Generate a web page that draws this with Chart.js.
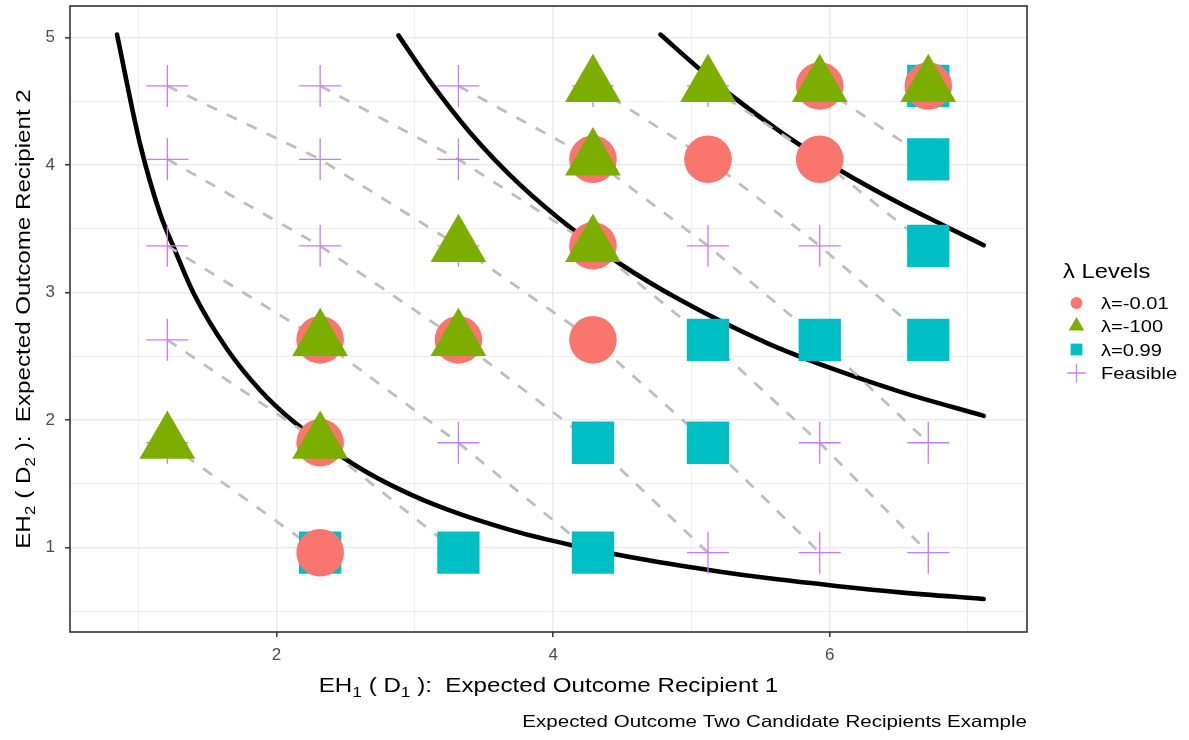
<!DOCTYPE html>
<html>
<head>
<meta charset="utf-8">
<script src="https://cdn.jsdelivr.net/npm/chart.js@4.4.0/dist/chart.umd.min.js"></script>
<style>
  html, body { margin: 0; padding: 0; background: #ffffff; }
  #wrap { width: 1189px; height: 740px; }
</style>
</head>
<body>
<div id="wrap"><canvas id="chart" width="1189" height="740"></canvas></div>
<script>
// Expected-outcome grid levels for the two recipients
const eh1Levels = [1.21, 2.315, 3.315, 4.288, 5.12, 5.928, 6.713];
const eh2Levels = [4.621, 4.046, 3.367, 2.630, 1.823, 0.961];

// Budget lines: offset k = column index - row index along each dashed line
const budgetOffsets = [-4, -3, -2, -1, 0, 1, 2, 3, 4, 5, 6];

// Chosen allocations for each lambda level
const lamMinus001X = [5.928, 6.713, 4.288, 5.12, 5.928, 4.288, 2.315, 3.315, 4.288, 2.315, 2.315];
const lamMinus001Y = [4.621, 4.621, 4.046, 4.046, 4.046, 3.367, 2.630, 2.630, 2.630, 1.823, 0.961];

const lamMinus100X = [4.288, 5.12, 5.928, 6.713, 4.288, 4.288, 3.315, 2.315, 3.315, 1.21, 2.315];
const lamMinus100Y = [4.621, 4.621, 4.621, 4.621, 4.046, 3.367, 3.367, 2.630, 2.630, 1.823, 1.823];

const lam099X = [6.713, 6.713, 6.713, 6.713, 5.928, 5.12, 5.12, 4.288, 4.288, 3.315, 2.315];
const lam099Y = [4.621, 4.046, 3.367, 2.630, 2.630, 2.630, 1.823, 1.823, 0.961, 0.961, 0.961];

// Iso-utility curves
const curveLowX = [0.846, 1.012, 1.157, 1.266, 1.398, 1.64, 1.881, 2.122, 2.556, 2.894, 3.232, 3.713, 4.136, 4.679, 5.209, 5.547, 6.0, 6.512, 7.114];
const curveLowY = [5.024, 4.169, 3.621, 3.33, 3.0, 2.56, 2.235, 1.99, 1.655, 1.455, 1.3, 1.132, 1.02, 0.903, 0.812, 0.762, 0.706, 0.65, 0.598];

const curveMidX = [2.881, 3.111, 3.4, 3.762, 4.148, 4.486, 4.92, 5.547, 6.029, 6.512, 7.114];
const curveMidY = [5.018, 4.655, 4.255, 3.845, 3.49, 3.225, 2.942, 2.605, 2.4, 2.222, 2.034];

const curveHighX = [4.776, 5.065, 5.305, 5.667, 6.077, 6.512, 6.825, 7.114];
const curveHighY = [5.024, 4.748, 4.533, 4.244, 3.958, 3.697, 3.527, 3.372];

// Axis ticks (major labelled, minor unlabelled)
const xTicks = [1, 2, 3, 4, 5, 6, 7];
const xTickLabels = ['', '2', '', '4', '', '6', ''];
const yTicks = [0.5, 1, 1.5, 2, 2.5, 3, 3.5, 4, 4.5, 5];
const yTickLabels = ['', '1', '', '2', '', '3', '', '4', '', '5'];

const legendItems = ['λ=-0.01', 'λ=-100', 'λ=0.99', 'Feasible'];

// ---------------------------------------------------------------
const COL_CIRCLE = '#F8766D';
const COL_TRI = '#7CAE00';
const COL_SQ = '#00BFC4';
const COL_FEAS = '#C77CFF';
const FONT = '"Liberation Sans", Arial, sans-serif';

const zip = (xs, ys) => xs.map((x, i) => ({ x: x, y: ys[i] }));

// cells on the grid: [column, row]
const budgetLines = budgetOffsets.map(k => {
  const pts = [];
  eh2Levels.forEach((y, r) => {
    const c = r + k;
    if (c >= 0 && c < eh1Levels.length) pts.push({ x: eh1Levels[c], y: y });
  });
  return pts;
});
const feasiblePts = [].concat(...budgetLines);

const lineDatasets = budgetLines.map(pts => ({
  data: pts,
  showLine: true,
  borderColor: '#BEBEBE',
  borderWidth: 2.8,
  borderDash: [11, 11],
  pointRadius: 0,
  order: 5
}));

const curveDataset = (xs, ys) => ({
  data: zip(xs, ys),
  showLine: true,
  borderColor: '#000000',
  borderWidth: 4.6,
  borderCapStyle: 'round',
  cubicInterpolationMode: 'monotone',
  pointRadius: 0,
  order: 6
});

const datasets = [
  { label: legendItems[1], data: zip(lamMinus100X, lamMinus100Y), pointStyle: 'triangle', pointRadius: 32.2,
    backgroundColor: COL_TRI, borderWidth: 0, order: 1 },
  { label: legendItems[0], data: zip(lamMinus001X, lamMinus001Y), pointStyle: 'circle', pointRadius: 23.8,
    backgroundColor: COL_CIRCLE, borderWidth: 0, order: 2 },
  { label: legendItems[2], data: zip(lam099X, lam099Y), pointStyle: 'rect', pointRadius: 29.9,
    backgroundColor: COL_SQ, borderWidth: 0, order: 3 },
  { label: legendItems[3], data: feasiblePts, pointStyle: 'cross', pointRadius: 21,
    borderColor: COL_FEAS, backgroundColor: COL_FEAS, borderWidth: 1.3, order: 4 },
  ...lineDatasets,
  curveDataset(curveLowX, curveLowY),
  curveDataset(curveMidX, curveMidY),
  curveDataset(curveHighX, curveHighY)
];

// Draws text with sub-scripted pieces, stretched horizontally by sx
function drawRich(ctx, parts, x, y, size, sx, align) {
  const subSize = size * 0.72;
  ctx.save();
  ctx.translate(x, y);
  ctx.scale(sx, 1);
  ctx.textBaseline = 'alphabetic';
  ctx.textAlign = 'left';
  let total = 0;
  const widths = parts.map(p => {
    ctx.font = (p[1] ? subSize : size) + 'px ' + FONT;
    const w = ctx.measureText(p[0]).width;
    total += w;
    return w;
  });
  let cx = align === 'center' ? -total / 2 : (align === 'right' ? -total : 0);
  parts.forEach((p, i) => {
    ctx.font = (p[1] ? subSize : size) + 'px ' + FONT;
    ctx.fillText(p[0], cx, p[1] ? size * 0.26 : 0);
    cx += widths[i];
  });
  ctx.restore();
}

function legendSymbol(ctx, kind, x, y) {
  ctx.save();
  ctx.beginPath();
  if (kind === 0) {
    ctx.fillStyle = COL_CIRCLE;
    ctx.arc(x, y, 5.9, 0, Math.PI * 2);
    ctx.fill();
  } else if (kind === 1) {
    const r = 9.0;
    ctx.fillStyle = COL_TRI;
    ctx.moveTo(x, y - r);
    ctx.lineTo(x + r * Math.sin(2 * Math.PI / 3), y + r / 2);
    ctx.lineTo(x - r * Math.sin(2 * Math.PI / 3), y + r / 2);
    ctx.closePath();
    ctx.fill();
  } else if (kind === 2) {
    ctx.fillStyle = COL_SQ;
    ctx.fillRect(x - 5.9, y - 5.9, 11.8, 11.8);
  } else {
    ctx.strokeStyle = COL_FEAS;
    ctx.lineWidth = 1.3;
    ctx.moveTo(x - 9.2, y); ctx.lineTo(x + 9.2, y);
    ctx.moveTo(x, y - 9.2); ctx.lineTo(x, y + 9.2);
    ctx.stroke();
  }
  ctx.restore();
}

const decorations = {
  id: 'decorations',
  afterDatasetsDraw(chart) {
    const { ctx, chartArea: a } = chart;
    ctx.save();
    ctx.strokeStyle = '#333333';
    ctx.lineWidth = 1.6;
    ctx.strokeRect(a.left, a.top, a.right - a.left, a.bottom - a.top);
    ctx.restore();
  },
  afterDraw(chart) {
    const { ctx, chartArea: a } = chart;
    ctx.save();
    ctx.fillStyle = '#000000';
    const cx = (a.left + a.right) / 2;
    // x axis title
    drawRich(ctx, [['EH', false], ['1', true], [' ( D', false], ['1', true], [' ):  Expected Outcome Recipient 1', false]],
      cx, 691.5, 21, 1.15, 'center');
    // y axis title
    ctx.save();
    ctx.translate(30, (a.top + a.bottom) / 2);
    ctx.rotate(-Math.PI / 2);
    drawRich(ctx, [['EH', false], ['2', true], [' ( D', false], ['2', true], [' ):  Expected Outcome Recipient 2', false]],
      0, 0, 21, 1.15, 'center');
    ctx.restore();
    // caption
    drawRich(ctx, [['Expected Outcome Two Candidate Recipients Example', false]], a.right, 726.5, 16.5, 1.245, 'right');
    // legend
    drawRich(ctx, [['λ Levels', false]], 1063, 278, 19.5, 1.22, 'left');
    const rows = [303, 326, 349.5, 373];
    legendItems.forEach((t, i) => {
      legendSymbol(ctx, i, 1076.5, rows[i]);
      drawRich(ctx, [[t, false]], 1101, rows[i] + 6, 16.5, 1.22, 'left');
    });
    ctx.restore();
  }
};

const gridStyle = (isMajor) => ({
  color: '#EBEBEB',
  lineWidth: c => (c.tick && isMajor(c.tick.value)) ? 1.6 : 0.8,
  drawTicks: true,
  tickLength: 5,
  tickWidth: 1.5,
  tickColor: c => (c.tick && isMajor(c.tick.value)) ? '#333333' : 'rgba(0,0,0,0)'
});

const noScalePadding = s => {
  s.paddingTop = 0; s.paddingBottom = 0; s.paddingLeft = 0; s.paddingRight = 0;
};

new Chart(document.getElementById('chart'), {
  type: 'scatter',
  data: { datasets: datasets },
  plugins: [decorations],
  options: {
    responsive: false,
    animation: false,
    devicePixelRatio: 1,
    events: [],
    layout: { autoPadding: false, padding: { left: 0, right: 162, top: 6, bottom: 0 } },
    plugins: { legend: { display: false }, tooltip: { enabled: false } },
    scales: {
      x: {
        type: 'linear',
        min: 0.506,
        max: 7.427,
        afterBuildTicks: s => { s.ticks = xTicks.map(v => ({ value: v })); },
        afterFit: s => { s.height = 108; noScalePadding(s); },
        grid: gridStyle(v => xTickLabels[xTicks.indexOf(v)] !== ''),
        border: { display: false },
        ticks: {
          padding: 8,
          color: '#4D4D4D',
          font: { family: FONT, size: 17 },
          maxRotation: 0,
          autoSkip: false,
          callback: v => { const i = xTicks.indexOf(v); return i >= 0 ? xTickLabels[i] : ''; }
        }
      },
      y: {
        type: 'linear',
        min: 0.339,
        max: 5.248,
        afterBuildTicks: s => { s.ticks = yTicks.map(v => ({ value: v })); },
        afterFit: s => { s.width = 70; noScalePadding(s); },
        grid: gridStyle(v => yTickLabels[yTicks.indexOf(v)] !== ''),
        border: { display: false },
        ticks: {
          padding: 10,
          color: '#4D4D4D',
          font: { family: FONT, size: 17 },
          autoSkip: false,
          callback: v => { const i = yTicks.indexOf(v); return i >= 0 ? yTickLabels[i] : ''; }
        }
      }
    }
  }
});
</script>
</body>
</html>
